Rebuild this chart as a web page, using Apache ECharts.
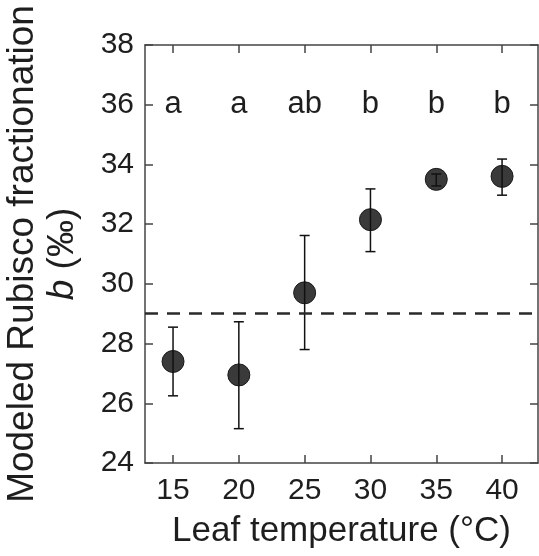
<!DOCTYPE html>
<html>
<head>
<meta charset="utf-8">
<script src="https://cdn.jsdelivr.net/npm/echarts@6/dist/echarts.min.js"></script>
<style>
  html, body { margin: 0; padding: 0; background: #fff; }
  #chart { width: 539px; height: 556px; }
</style>
</head>
<body>
<div id="chart"></div>
<script>
// leaf temperature (°C)
const temps = [15, 20, 25, 30, 35, 40];
// modeled b (‰), means and error bar ends
const bMean = [27.4, 26.95, 29.7, 32.15, 33.5, 33.6];
const bLow = [26.25, 25.15, 27.8, 31.08, 33.28, 32.97];
const bHigh = [28.55, 28.73, 31.62, 33.18, 33.68, 34.18];
// significance letters
const letters = ['a', 'a', 'ab', 'b', 'b', 'b'];
const letterY = 36;
const refLine = 29;

const fontFam = '"Liberation Sans", Arial, sans-serif';
const ink = '#1e1e1e';
const axisCol = '#444';

const chart = echarts.init(document.getElementById('chart'));

const xMin = 12.87, xMax = 42.73;

const baseX = {
  type: 'value',
  min: xMin,
  max: xMax,
  splitLine: { show: false },
  axisLine: { show: true, lineStyle: { color: axisCol, width: 1.5 } },
  axisTick: { show: true, inside: true, length: 8, customValues: temps, lineStyle: { color: axisCol, width: 1.5 } }
};
const baseY = {
  type: 'value',
  min: 24,
  max: 38,
  interval: 2,
  splitLine: { show: false },
  axisLine: { show: true, lineStyle: { color: axisCol, width: 1.5 } },
  axisTick: { show: true, inside: true, length: 8, lineStyle: { color: axisCol, width: 1.5 } }
};

const option = {
  animation: false,
  backgroundColor: '#fff',
  grid: { left: 145, right: 1, top: 45, bottom: 93, containLabel: false, outerBoundsMode: 'none' },
  xAxis: [
    Object.assign({}, baseX, {
      position: 'bottom',
      name: 'Leaf temperature (°C)',
      nameLocation: 'middle',
      nameGap: 51,
      nameTextStyle: { fontFamily: fontFam, fontSize: 35, color: ink },
      axisLabel: { show: true, customValues: temps, margin: 13, fontFamily: fontFam, fontSize: 30, color: ink }
    }),
    Object.assign({}, baseX, { position: 'top', axisLabel: { show: false } })
  ],
  yAxis: [
    Object.assign({}, baseY, {
      position: 'left',
      name: '{a|Modeled Rubisco fractionation}\n{i|b}{a| (‰)}',
      nameLocation: 'middle',
      nameRotate: 90,
      nameGap: 62,
      nameTextStyle: {
        color: ink,
        lineHeight: 40,
        rich: {
          a: { fontFamily: fontFam, fontSize: 37, color: ink, lineHeight: 40 },
          i: { fontFamily: fontFam, fontSize: 37, color: ink, fontStyle: 'italic', lineHeight: 40 }
        }
      },
      axisLabel: { show: true, margin: 11, fontFamily: fontFam, fontSize: 30, color: ink }
    }),
    Object.assign({}, baseY, { position: 'right', axisLabel: { show: false } })
  ],
  series: [
    {
      type: 'scatter',
      name: 'b',
      data: temps.map((t, i) => [t, bMean[i]]),
      symbol: 'circle',
      symbolSize: 22,
      itemStyle: { color: '#3a3a3a', borderColor: '#1a1a1a', borderWidth: 1, opacity: 1 },
      z: 3,
      markLine: {
        silent: true,
        symbol: ['none', 'none'],
        label: { show: false },
        lineStyle: { color: '#2a2a2a', width: 2.5, type: [13, 9] },
        data: [{ yAxis: refLine }]
      }
    },
    {
      type: 'custom',
      name: 'error',
      xAxisIndex: 0,
      yAxisIndex: 0,
      data: temps.map((t, i) => [t, bLow[i], bHigh[i]]),
      renderItem: function (params, api) {
        const lo = api.coord([api.value(0), api.value(1)]);
        const hi = api.coord([api.value(0), api.value(2)]);
        const cap = 5;
        const st = { stroke: '#111', lineWidth: 1.5 };
        return {
          type: 'group',
          children: [
            { type: 'line', shape: { x1: lo[0], y1: lo[1], x2: hi[0], y2: hi[1] }, style: st },
            { type: 'line', shape: { x1: lo[0] - cap, y1: lo[1], x2: lo[0] + cap, y2: lo[1] }, style: st },
            { type: 'line', shape: { x1: hi[0] - cap, y1: hi[1], x2: hi[0] + cap, y2: hi[1] }, style: st }
          ]
        };
      },
      z: 4
    },
    {
      type: 'scatter',
      name: 'letters',
      data: temps.map((t) => [t, letterY]),
      symbolSize: 0,
      itemStyle: { color: ink, opacity: 1 },
      label: {
        show: true,
        position: 'inside',
        formatter: (p) => letters[p.dataIndex],
        fontFamily: fontFam,
        fontSize: 31,
        color: ink,
        opacity: 1,
        textBorderWidth: 0
      },
      z: 5
    }
  ]
};

chart.setOption(option);
</script>
</body>
</html>
